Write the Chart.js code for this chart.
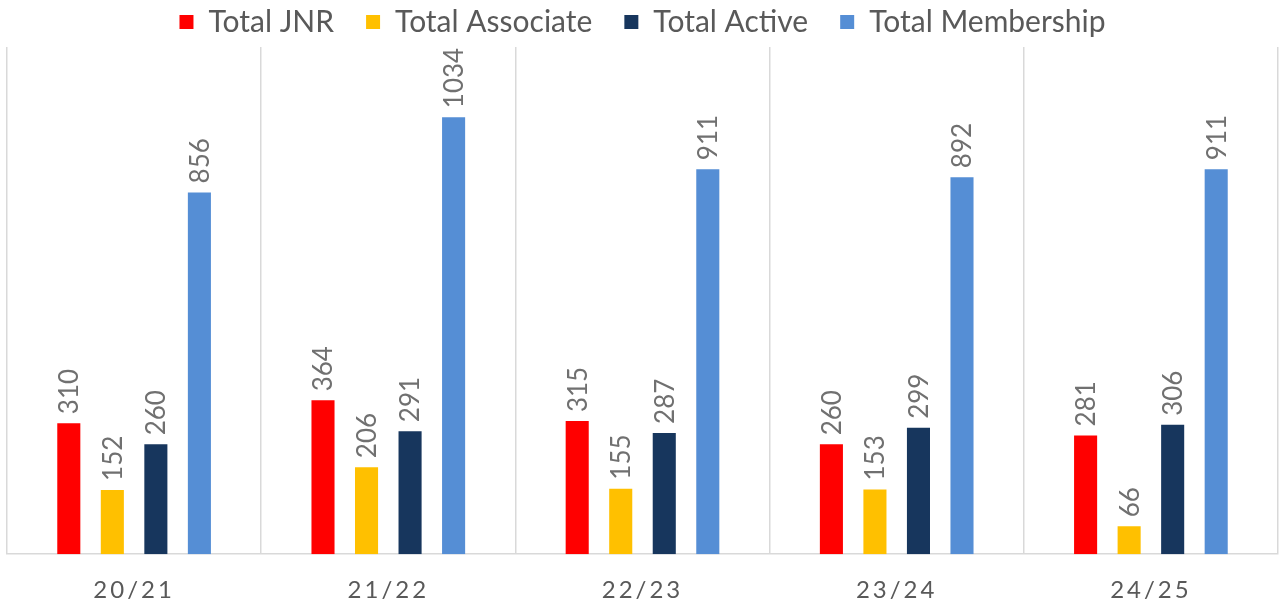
<!DOCTYPE html>
<html>
<head>
<meta charset="utf-8">
<script src="https://cdn.jsdelivr.net/npm/chart.js@4/dist/chart.umd.min.js"></script>
<style>
  html, body { margin: 0; padding: 0; background: #fff; }
  #wrap { width: 1284px; height: 608px; position: relative; }
</style>
</head>
<body>
<div id="wrap"><canvas id="membershipChart"></canvas></div>
<script>
const seasons = ["20/21", "21/22", "22/23", "23/24", "24/25"];
const totalJnr = [310, 364, 315, 260, 281];
const totalAssociate = [152, 206, 155, 153, 66];
const totalActive = [260, 291, 287, 299, 306];
const totalMembership = [856, 1034, 911, 892, 911];

const seriesNames = ["Total JNR", "Total Associate", "Total Active", "Total Membership"];
const seriesColors = ["#ff0000", "#ffc000", "#17365d", "#558ed5"];

// rotated value labels above each bar
const barLabels = {
  id: "barLabels",
  afterDatasetsDraw(chart) {
    const ctx = chart.ctx;
    chart.data.datasets.forEach((ds, i) => {
      const meta = chart.getDatasetMeta(i);
      meta.data.forEach((bar, j) => {
        ctx.save();
        ctx.translate(bar.x, bar.y - 9);
        ctx.rotate(-Math.PI / 2);
        ctx.font = "26px Lato";
        ctx.fillStyle = "#707070";
        ctx.textAlign = "left";
        ctx.textBaseline = "middle";
        ctx.fillText(String(ds.data[j]), 0, 1);
        ctx.restore();
      });
    });
  },
};

// spaced-out category labels like the original
const spacedTicks = {
  id: "spacedTicks",
  beforeDraw(chart) {
    const s = chart.scales.x;
    if (s._spaced) return;
    const orig = s.drawLabels;
    s.drawLabels = function (area) {
      chart.ctx.save();
      chart.ctx.letterSpacing = "3px";
      orig.call(this, area);
      chart.ctx.restore();
    };
    s._spaced = true;
  },
};

const ctx = document.getElementById("membershipChart");
// eslint-disable-next-line no-unused-vars
const myChart = new Chart(ctx, {
  type: "bar",
  data: {
    labels: seasons,
    datasets: [totalJnr, totalAssociate, totalActive, totalMembership].map((d, i) => ({
      label: seriesNames[i],
      data: d,
      backgroundColor: seriesColors[i],
      borderWidth: 0,
      categoryPercentage: 0.685,
      barPercentage: 0.53,
    })),
  },
  options: {
    responsive: true,
    maintainAspectRatio: false,
    animation: false,
    layout: { padding: { left: 7, right: 6, top: -25, bottom: -19 } },
    plugins: {
      tooltip: { enabled: false },
      legend: {
        display: true,
        position: "top",
        labels: {
          font: { family: "Lato", size: 30 },
          color: "#595959",
          boxWidth: 14,
          boxHeight: 14,
          padding: 32,
        },
      },
    },
    scales: {
      x: {
        offset: true,
        grid: {
          offset: true,
          color: "#d9d9d9",
          lineWidth: 1.5,
          drawTicks: false,
        },
        border: { color: "#d9d9d9", width: 1.5 },
        ticks: {
          font: { family: "Lato", size: 24 },
          color: "#595959",
          padding: 22,
        },
      },
      y: {
        display: false,
        min: 0,
        max: 1200,
      },
    },
  },
  plugins: [barLabels, spacedTicks],
});
</script>
</body>
</html>
